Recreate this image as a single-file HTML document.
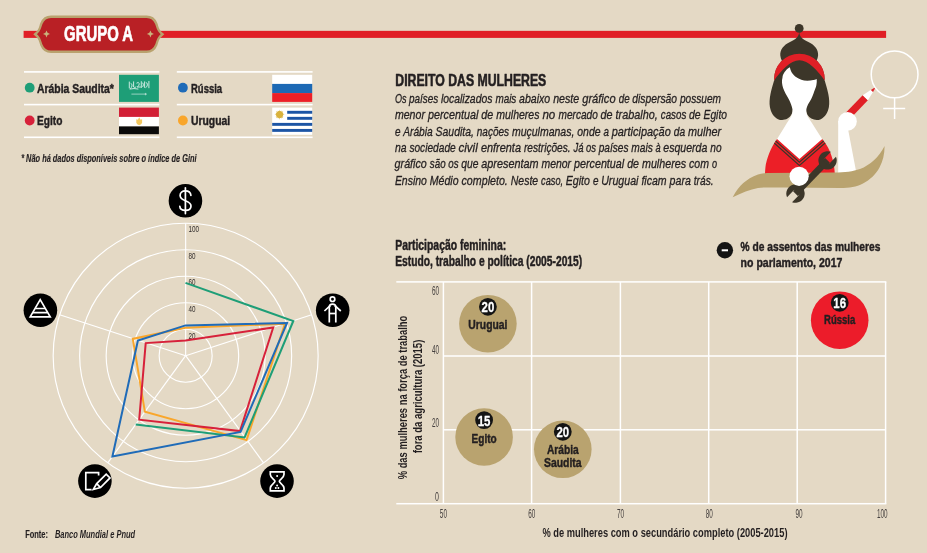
<!DOCTYPE html>
<html lang="pt-BR"><head><meta charset="utf-8"><title>Grupo A - Direito das mulheres</title>
<style>
html,body{margin:0;padding:0;background:#E4D9C5;}
body{width:927px;height:553px;overflow:hidden;}
svg{display:block;font-family:"Liberation Sans",sans-serif;fill:#231F20;}
.b{font-weight:bold}
.i{font-style:italic}
</style></head><body>
<svg width="927" height="553" viewBox="0 0 927 553">
<rect width="927" height="553" fill="#E4D9C5"/>

<rect x="23.6" y="30.85" width="862.5" height="7.05" fill="#E01F26"/>
<path d="M51,16.75 C46.5,16.75 43,19.5 41.4,23.5 C40.4,26 40.3,28.3 38.6,30.6 C37.6,32 36.4,33.2 35.1,34.25 C36.4,35.3 37.6,36.5 38.6,37.9 C40.3,40.2 40.4,42.5 41.4,45 C43,49 46.5,51.75 51,51.75 L146.6,51.75 C151.1,51.75 154.6,49 156.2,45 C157.2,42.5 157.3,40.2 159.0,37.9 C160.0,36.5 161.2,35.3 162.5,34.25 C161.2,33.2 160.0,32 159.0,30.6 C157.3,28.3 157.2,26 156.2,23.5 C154.6,19.5 151.1,16.75 146.6,16.75 Z" fill="#B92025" stroke="#B9A26E" stroke-width="2.3" stroke-linejoin="miter"/>
<path d="M46.5,30.4 L47.55,32.85 L50.0,33.9 L47.55,34.949999999999996 L46.5,37.4 L45.45,34.949999999999996 L43.0,33.9 L45.45,32.85 Z M150.4,30.4 L151.45000000000002,32.85 L153.9,33.9 L151.45000000000002,34.949999999999996 L150.4,37.4 L149.35,34.949999999999996 L146.9,33.9 L149.35,32.85 Z" fill="#C9B37C"/>
<text x="64.1" y="41.2" font-size="21.8" textLength="69" lengthAdjust="spacingAndGlyphs" class="b" fill="#FFFFFF" stroke="#FFFFFF" stroke-width="0.7" stroke-linejoin="round">GRUPO A</text>
<rect x="24" y="71.10000000000001" width="135.4" height="1.6" fill="#FFFFFF"/>
<rect x="24" y="103.8" width="135.4" height="1.6" fill="#FFFFFF"/>
<rect x="24" y="136.5" width="135.4" height="1.6" fill="#FFFFFF"/>
<rect x="176.8" y="71.10000000000001" width="135.8" height="1.6" fill="#FFFFFF"/>
<rect x="176.8" y="103.8" width="135.8" height="1.6" fill="#FFFFFF"/>
<rect x="176.8" y="136.5" width="135.8" height="1.6" fill="#FFFFFF"/>
<circle cx="29.7" cy="87.7" r="4.9" fill="#1E9E77"/>
<circle cx="29.7" cy="120.5" r="4.9" fill="#D7213A"/>
<circle cx="182.9" cy="87.7" r="4.9" fill="#1F6BB8"/>
<circle cx="182.9" cy="120.5" r="4.9" fill="#F9A62B"/>
<text x="37" y="92.5" font-size="13" textLength="76.9" lengthAdjust="spacingAndGlyphs" class="b" stroke="#231F20" stroke-width="0.45" stroke-linejoin="round">Arábia Saudita*</text>
<text x="37" y="125.2" font-size="13" textLength="25.4" lengthAdjust="spacingAndGlyphs" class="b" stroke="#231F20" stroke-width="0.45" stroke-linejoin="round">Egito</text>
<text x="191" y="92.5" font-size="13" textLength="31.1" lengthAdjust="spacingAndGlyphs" class="b" stroke="#231F20" stroke-width="0.45" stroke-linejoin="round">Rússia</text>
<text x="191" y="125.2" font-size="13" textLength="39.2" lengthAdjust="spacingAndGlyphs" class="b" stroke="#231F20" stroke-width="0.45" stroke-linejoin="round">Uruguai</text>
<rect x="119" y="74.8" width="39.9" height="27.1" fill="#1E9E77"/>
<g stroke="#FFFFFF" fill="none" stroke-linecap="round" opacity="0.85"><path stroke-width="0.9" d="M129.3,82 v6 M131,83.5 q1.6,0.5 1,2.5 t-1.5,2.5 M133.6,81.8 v5.2 q1.2,1.2 2.4,0 M136.8,83 q2,-1.6 2.4,0.6 t-2,3.4 h3.2 M141.3,81.6 v6 M142.9,83 q1.4,1.8 0,3.6 M144.6,81.8 v5.6 M146.2,82.6 q1.6,0.2 1.2,2.4 t-1.6,2.6 M148.9,81.4 v6.4 M130,89 q4,-1 8,0"/><path stroke-width="0.7" opacity="0.9" d="M131.8,94.1 h14.8 M145.4,93.3 v1.6"/></g>
<rect x="119" y="107.6" width="39.9" height="9.4" fill="#D21F36"/><rect x="119" y="116.9" width="39.9" height="9.6" fill="#FFFFFF"/><rect x="119" y="126.4" width="39.9" height="7.8" fill="#0A0A0A"/>
<path d="M136.3,119.2 l1.6,0.5 l1.3,-2.4 l1.3,2.4 l1.6,-0.5 v3.6 q-0.4,1.6 -2.9,2.4 q-2.5,-0.8 -2.9,-2.4 Z" fill="#F2C860"/>
<rect x="272.2" y="74.8" width="40" height="9.2" fill="#FFFFFF"/><rect x="272.2" y="83.9" width="40" height="9.3" fill="#1C69B5"/><rect x="272.2" y="93.1" width="40" height="8.8" fill="#EC1F27"/>
<rect x="272.2" y="107.6" width="40" height="27.2" fill="#FFFFFF"/>
<rect x="287.2" y="110.82" width="25" height="2.92" fill="#1C55A5"/>
<rect x="287.2" y="116.86" width="25" height="2.92" fill="#1C55A5"/>
<rect x="272.2" y="122.90" width="40" height="2.92" fill="#1C55A5"/>
<rect x="272.2" y="128.94" width="40" height="2.92" fill="#1C55A5"/>
<path d="M282.02,113.98 L284.70,114.60 L282.02,115.22 Z M282.07,114.96 L283.76,116.32 L281.60,116.10 Z M281.75,115.88 L283.21,118.21 L280.88,116.75 Z M281.10,116.60 L281.32,118.76 L279.96,117.07 Z M280.22,117.02 L279.60,119.70 L278.98,117.02 Z M279.24,117.07 L277.88,118.76 L278.10,116.60 Z M278.32,116.75 L275.99,118.21 L277.45,115.88 Z M277.60,116.10 L275.44,116.32 L277.13,114.96 Z M277.18,115.22 L274.50,114.60 L277.18,113.98 Z M277.13,114.24 L275.44,112.88 L277.60,113.10 Z M277.45,113.32 L275.99,110.99 L278.32,112.45 Z M278.10,112.60 L277.88,110.44 L279.24,112.13 Z M278.98,112.18 L279.60,109.50 L280.22,112.18 Z M279.96,112.13 L281.32,110.44 L281.10,112.60 Z M280.88,112.45 L283.21,110.99 L281.75,113.32 Z M281.60,113.10 L283.76,112.88 L282.07,114.24 Z" fill="#D9B23C"/><circle cx="279.6" cy="114.6" r="3.5" fill="#D9B23C"/>
<text x="21.2" y="161.6" font-size="10" textLength="175.4" lengthAdjust="spacingAndGlyphs" class="b i" stroke="#231F20" stroke-width="0.15" stroke-linejoin="round">* Não há dados disponíveis sobre o índice de Gini</text>
<text x="395.3" y="85.6" font-size="16.8" textLength="151.0" lengthAdjust="spacingAndGlyphs" class="b" stroke="#231F20" stroke-width="0.6" stroke-linejoin="round">DIREITO DAS MULHERES</text>
<text x="394.9" y="102.6" font-size="13.3" textLength="11.58" lengthAdjust="spacingAndGlyphs" class="i" stroke="#231F20" stroke-width="0.3" stroke-linejoin="round">Os</text>
<text x="409" y="102.6" font-size="13.3" textLength="29.15" lengthAdjust="spacingAndGlyphs" class="i" stroke="#231F20" stroke-width="0.3" stroke-linejoin="round">países</text>
<text x="440.9" y="102.6" font-size="13.3" textLength="51.6" lengthAdjust="spacingAndGlyphs" class="i" stroke="#231F20" stroke-width="0.3" stroke-linejoin="round">localizados</text>
<text x="495.4" y="102.6" font-size="13.3" textLength="20.94" lengthAdjust="spacingAndGlyphs" class="i" stroke="#231F20" stroke-width="0.3" stroke-linejoin="round">mais</text>
<text x="519.1" y="102.6" font-size="13.3" textLength="31.16" lengthAdjust="spacingAndGlyphs" class="i" stroke="#231F20" stroke-width="0.3" stroke-linejoin="round">abaixo</text>
<text x="553.2" y="102.6" font-size="13.3" textLength="26.04" lengthAdjust="spacingAndGlyphs" class="i" stroke="#231F20" stroke-width="0.3" stroke-linejoin="round">neste</text>
<text x="582.2" y="102.6" font-size="13.3" textLength="33.41" lengthAdjust="spacingAndGlyphs" class="i" stroke="#231F20" stroke-width="0.3" stroke-linejoin="round">gráfico</text>
<text x="618.7" y="102.6" font-size="13.3" textLength="10.88" lengthAdjust="spacingAndGlyphs" class="i" stroke="#231F20" stroke-width="0.3" stroke-linejoin="round">de</text>
<text x="632.3" y="102.6" font-size="13.3" textLength="44.73" lengthAdjust="spacingAndGlyphs" class="i" stroke="#231F20" stroke-width="0.3" stroke-linejoin="round">dispersão</text>
<text x="679.9" y="102.6" font-size="13.3" textLength="41.1" lengthAdjust="spacingAndGlyphs" class="i" stroke="#231F20" stroke-width="0.3" stroke-linejoin="round">possuem</text>
<text x="394.9" y="119.05" font-size="13.3" textLength="30.05" lengthAdjust="spacingAndGlyphs" class="i" stroke="#231F20" stroke-width="0.3" stroke-linejoin="round">menor</text>
<text x="427.9" y="119.05" font-size="13.3" textLength="50.4" lengthAdjust="spacingAndGlyphs" class="i" stroke="#231F20" stroke-width="0.3" stroke-linejoin="round">percentual</text>
<text x="481.3" y="119.05" font-size="13.3" textLength="11.92" lengthAdjust="spacingAndGlyphs" class="i" stroke="#231F20" stroke-width="0.3" stroke-linejoin="round">de</text>
<text x="496.2" y="119.05" font-size="13.3" textLength="43.28" lengthAdjust="spacingAndGlyphs" class="i" stroke="#231F20" stroke-width="0.3" stroke-linejoin="round">mulheres</text>
<text x="542.4" y="119.05" font-size="13.3" textLength="12.88" lengthAdjust="spacingAndGlyphs" class="i" stroke="#231F20" stroke-width="0.3" stroke-linejoin="round">no</text>
<text x="558.5" y="119.05" font-size="13.3" textLength="39.29" lengthAdjust="spacingAndGlyphs" class="i" stroke="#231F20" stroke-width="0.3" stroke-linejoin="round">mercado</text>
<text x="600.6" y="119.05" font-size="13.3" textLength="12.0" lengthAdjust="spacingAndGlyphs" class="i" stroke="#231F20" stroke-width="0.3" stroke-linejoin="round">de</text>
<text x="615.6" y="119.05" font-size="13.3" textLength="42.19" lengthAdjust="spacingAndGlyphs" class="i" stroke="#231F20" stroke-width="0.3" stroke-linejoin="round">trabalho,</text>
<text x="660.8" y="119.05" font-size="13.3" textLength="25.49" lengthAdjust="spacingAndGlyphs" class="i" stroke="#231F20" stroke-width="0.3" stroke-linejoin="round">casos</text>
<text x="689" y="119.05" font-size="13.3" textLength="11.6" lengthAdjust="spacingAndGlyphs" class="i" stroke="#231F20" stroke-width="0.3" stroke-linejoin="round">de</text>
<text x="703.5" y="119.05" font-size="13.3" textLength="23.5" lengthAdjust="spacingAndGlyphs" class="i" stroke="#231F20" stroke-width="0.3" stroke-linejoin="round">Egito</text>
<text x="394.9" y="135.5" font-size="13.3" textLength="5.53" lengthAdjust="spacingAndGlyphs" class="i" stroke="#231F20" stroke-width="0.3" stroke-linejoin="round">e</text>
<text x="403.2" y="135.5" font-size="13.3" textLength="29.56" lengthAdjust="spacingAndGlyphs" class="i" stroke="#231F20" stroke-width="0.3" stroke-linejoin="round">Arábia</text>
<text x="435.6" y="135.5" font-size="13.3" textLength="38.3" lengthAdjust="spacingAndGlyphs" class="i" stroke="#231F20" stroke-width="0.3" stroke-linejoin="round">Saudita,</text>
<text x="476.8" y="135.5" font-size="13.3" textLength="32.32" lengthAdjust="spacingAndGlyphs" class="i" stroke="#231F20" stroke-width="0.3" stroke-linejoin="round">nações</text>
<text x="511.9" y="135.5" font-size="13.3" textLength="62.48" lengthAdjust="spacingAndGlyphs" class="i" stroke="#231F20" stroke-width="0.3" stroke-linejoin="round">muçulmanas,</text>
<text x="577.3" y="135.5" font-size="13.3" textLength="23.29" lengthAdjust="spacingAndGlyphs" class="i" stroke="#231F20" stroke-width="0.3" stroke-linejoin="round">onde</text>
<text x="603.5" y="135.5" font-size="13.3" textLength="5.47" lengthAdjust="spacingAndGlyphs" class="i" stroke="#231F20" stroke-width="0.3" stroke-linejoin="round">a</text>
<text x="611.7" y="135.5" font-size="13.3" textLength="59.06" lengthAdjust="spacingAndGlyphs" class="i" stroke="#231F20" stroke-width="0.3" stroke-linejoin="round">participação</text>
<text x="673.8" y="135.5" font-size="13.3" textLength="11.36" lengthAdjust="spacingAndGlyphs" class="i" stroke="#231F20" stroke-width="0.3" stroke-linejoin="round">da</text>
<text x="688" y="135.5" font-size="13.3" textLength="33.2" lengthAdjust="spacingAndGlyphs" class="i" stroke="#231F20" stroke-width="0.3" stroke-linejoin="round">mulher</text>
<text x="394.9" y="151.95" font-size="13.3" textLength="11.6" lengthAdjust="spacingAndGlyphs" class="i" stroke="#231F20" stroke-width="0.3" stroke-linejoin="round">na</text>
<text x="409.4" y="151.95" font-size="13.3" textLength="46.28" lengthAdjust="spacingAndGlyphs" class="i" stroke="#231F20" stroke-width="0.3" stroke-linejoin="round">sociedade</text>
<text x="458.5" y="151.95" font-size="13.3" textLength="19.2" lengthAdjust="spacingAndGlyphs" class="i" stroke="#231F20" stroke-width="0.3" stroke-linejoin="round">civil</text>
<text x="480.9" y="151.95" font-size="13.3" textLength="40.07" lengthAdjust="spacingAndGlyphs" class="i" stroke="#231F20" stroke-width="0.3" stroke-linejoin="round">enfrenta</text>
<text x="524" y="151.95" font-size="13.3" textLength="46.59" lengthAdjust="spacingAndGlyphs" class="i" stroke="#231F20" stroke-width="0.3" stroke-linejoin="round">restrições.</text>
<text x="573.4" y="151.95" font-size="13.3" textLength="10.05" lengthAdjust="spacingAndGlyphs" class="i" stroke="#231F20" stroke-width="0.3" stroke-linejoin="round">Já</text>
<text x="586.1" y="151.95" font-size="13.3" textLength="9.98" lengthAdjust="spacingAndGlyphs" class="i" stroke="#231F20" stroke-width="0.3" stroke-linejoin="round">os</text>
<text x="598.7" y="151.95" font-size="13.3" textLength="29.79" lengthAdjust="spacingAndGlyphs" class="i" stroke="#231F20" stroke-width="0.3" stroke-linejoin="round">países</text>
<text x="631.3" y="151.95" font-size="13.3" textLength="21.47" lengthAdjust="spacingAndGlyphs" class="i" stroke="#231F20" stroke-width="0.3" stroke-linejoin="round">mais</text>
<text x="655.6" y="151.95" font-size="13.3" textLength="5.13" lengthAdjust="spacingAndGlyphs" class="i" stroke="#231F20" stroke-width="0.3" stroke-linejoin="round">à</text>
<text x="663.3" y="151.95" font-size="13.3" textLength="44.06" lengthAdjust="spacingAndGlyphs" class="i" stroke="#231F20" stroke-width="0.3" stroke-linejoin="round">esquerda</text>
<text x="710.3" y="151.95" font-size="13.3" textLength="11.3" lengthAdjust="spacingAndGlyphs" class="i" stroke="#231F20" stroke-width="0.3" stroke-linejoin="round">no</text>
<text x="394.6" y="168.4" font-size="13.3" textLength="32.22" lengthAdjust="spacingAndGlyphs" class="i" stroke="#231F20" stroke-width="0.3" stroke-linejoin="round">gráfico</text>
<text x="429.8" y="168.4" font-size="13.3" textLength="15.78" lengthAdjust="spacingAndGlyphs" class="i" stroke="#231F20" stroke-width="0.3" stroke-linejoin="round">são</text>
<text x="448.3" y="168.4" font-size="13.3" textLength="10.29" lengthAdjust="spacingAndGlyphs" class="i" stroke="#231F20" stroke-width="0.3" stroke-linejoin="round">os</text>
<text x="461.3" y="168.4" font-size="13.3" textLength="17.15" lengthAdjust="spacingAndGlyphs" class="i" stroke="#231F20" stroke-width="0.3" stroke-linejoin="round">que</text>
<text x="481.3" y="168.4" font-size="13.3" textLength="57.19" lengthAdjust="spacingAndGlyphs" class="i" stroke="#231F20" stroke-width="0.3" stroke-linejoin="round">apresentam</text>
<text x="541.5" y="168.4" font-size="13.3" textLength="29.6" lengthAdjust="spacingAndGlyphs" class="i" stroke="#231F20" stroke-width="0.3" stroke-linejoin="round">menor</text>
<text x="574" y="168.4" font-size="13.3" textLength="50.21" lengthAdjust="spacingAndGlyphs" class="i" stroke="#231F20" stroke-width="0.3" stroke-linejoin="round">percentual</text>
<text x="627.2" y="168.4" font-size="13.3" textLength="11.84" lengthAdjust="spacingAndGlyphs" class="i" stroke="#231F20" stroke-width="0.3" stroke-linejoin="round">de</text>
<text x="642" y="168.4" font-size="13.3" textLength="44.03" lengthAdjust="spacingAndGlyphs" class="i" stroke="#231F20" stroke-width="0.3" stroke-linejoin="round">mulheres</text>
<text x="689" y="168.4" font-size="13.3" textLength="19.96" lengthAdjust="spacingAndGlyphs" class="i" stroke="#231F20" stroke-width="0.3" stroke-linejoin="round">com</text>
<text x="711.9" y="168.4" font-size="13.3" textLength="5.1" lengthAdjust="spacingAndGlyphs" class="i" stroke="#231F20" stroke-width="0.3" stroke-linejoin="round">o</text>
<text x="394.9" y="184.85" font-size="13.3" textLength="31.99" lengthAdjust="spacingAndGlyphs" class="i" stroke="#231F20" stroke-width="0.3" stroke-linejoin="round">Ensino</text>
<text x="429.8" y="184.85" font-size="13.3" textLength="28.77" lengthAdjust="spacingAndGlyphs" class="i" stroke="#231F20" stroke-width="0.3" stroke-linejoin="round">Médio</text>
<text x="461.5" y="184.85" font-size="13.3" textLength="46.33" lengthAdjust="spacingAndGlyphs" class="i" stroke="#231F20" stroke-width="0.3" stroke-linejoin="round">completo.</text>
<text x="510.8" y="184.85" font-size="13.3" textLength="27.39" lengthAdjust="spacingAndGlyphs" class="i" stroke="#231F20" stroke-width="0.3" stroke-linejoin="round">Neste</text>
<text x="541.1" y="184.85" font-size="13.3" textLength="22.04" lengthAdjust="spacingAndGlyphs" class="i" stroke="#231F20" stroke-width="0.3" stroke-linejoin="round">caso,</text>
<text x="565.7" y="184.85" font-size="13.3" textLength="24.24" lengthAdjust="spacingAndGlyphs" class="i" stroke="#231F20" stroke-width="0.3" stroke-linejoin="round">Egito</text>
<text x="592.9" y="184.85" font-size="13.3" textLength="5.53" lengthAdjust="spacingAndGlyphs" class="i" stroke="#231F20" stroke-width="0.3" stroke-linejoin="round">e</text>
<text x="601.2" y="184.85" font-size="13.3" textLength="37.25" lengthAdjust="spacingAndGlyphs" class="i" stroke="#231F20" stroke-width="0.3" stroke-linejoin="round">Uruguai</text>
<text x="641.4" y="184.85" font-size="13.3" textLength="25.26" lengthAdjust="spacingAndGlyphs" class="i" stroke="#231F20" stroke-width="0.3" stroke-linejoin="round">ficam</text>
<text x="669.6" y="184.85" font-size="13.3" textLength="21.25" lengthAdjust="spacingAndGlyphs" class="i" stroke="#231F20" stroke-width="0.3" stroke-linejoin="round">para</text>
<text x="693.8" y="184.85" font-size="13.3" textLength="19.8" lengthAdjust="spacingAndGlyphs" class="i" stroke="#231F20" stroke-width="0.3" stroke-linejoin="round">trás.</text>
<g fill="none" stroke="#FFFFFF" stroke-width="1.15">
<circle cx="185.65" cy="355.7" r="26.50"/>
<circle cx="185.65" cy="355.7" r="53.00"/>
<circle cx="185.65" cy="355.7" r="79.50"/>
<circle cx="185.65" cy="355.7" r="106.00"/>
<circle cx="185.65" cy="355.7" r="132.50"/>
<line x1="185.65" y1="355.7" x2="185.65" y2="223.20"/>
<line x1="185.65" y1="355.7" x2="311.66" y2="314.76"/>
<line x1="185.65" y1="355.7" x2="263.53" y2="462.89"/>
<line x1="185.65" y1="355.7" x2="107.77" y2="462.89"/>
<line x1="185.65" y1="355.7" x2="59.64" y2="314.76"/>
</g>
<text x="188.4" y="338.5" font-size="9.6" textLength="7.0" lengthAdjust="spacingAndGlyphs" fill="#332E2D">20</text>
<text x="188.4" y="311.9" font-size="9.6" textLength="7.0" lengthAdjust="spacingAndGlyphs" fill="#332E2D">40</text>
<text x="188.4" y="285.2" font-size="9.6" textLength="7.0" lengthAdjust="spacingAndGlyphs" fill="#332E2D">60</text>
<text x="188.4" y="258.6" font-size="9.6" textLength="7.0" lengthAdjust="spacingAndGlyphs" fill="#332E2D">80</text>
<text x="188.4" y="231.9" font-size="9.6" textLength="10.6" lengthAdjust="spacingAndGlyphs" fill="#332E2D">100</text>
<polygon points="185.5,327.7 284.9,323.7 246.6,440.1 144.9,411.8 132.8,338.9" fill="none" stroke="#F9A62B" stroke-width="2" stroke-linejoin="miter"/>
<polyline points="185.5,282.9 293.3,321.0 244.6,437.4 135.7,424.6" fill="none" stroke="#1E9E77" stroke-width="2" stroke-linejoin="miter"/>
<polygon points="185.5,340.6 273.2,327.5 240.0,431.1 139.2,419.7 145.7,343.1" fill="none" stroke="#D7213A" stroke-width="2" stroke-linejoin="miter"/>
<polygon points="185.5,325.4 287.0,323.0 240.6,431.9 112.4,456.6 137.9,340.5" fill="none" stroke="#1F6BB8" stroke-width="2" stroke-linejoin="miter"/>
<circle cx="185.45" cy="200.8" r="16.8" fill="#000000"/>
<g fill="none" stroke="#FFFFFF" stroke-width="1.7" stroke-linecap="round"><path d="M190.9,195.4 C190.6,192.6 188.3,190.9 185.4,190.9 C182.3,190.9 180.1,192.8 180.1,195.5 C180.1,198.6 182.8,199.8 185.4,200.7 C188.2,201.7 191,203 191,206 C191,208.8 188.6,210.4 185.4,210.4 C182.4,210.4 180,208.9 179.8,206.4"/><line x1="185.4" y1="187.8" x2="185.4" y2="213.6"/></g>
<circle cx="332.7" cy="310.2" r="16.8" fill="#000000"/>
<g fill="none" stroke="#FFFFFF" stroke-width="1.7"><circle cx="332.5" cy="299.2" r="2.3"/><path d="M329.3,322.6 V307.5 C329.3,305.3 330.6,304.2 332.5,304.2 C334.4,304.2 335.8,305.3 335.8,307.5 V322.6"/><path d="M329.3,313.5 H335.8"/><path d="M324.4,311 L330.2,305.6 M340.8,311 L334.9,305.6"/></g>
<circle cx="40.4" cy="310.3" r="16.8" fill="#000000"/>
<g fill="none" stroke="#FFFFFF" stroke-width="1.7" stroke-linejoin="miter"><path d="M40.2,299.6 L50.2,316.8 H30.2 Z"/><path d="M35.4,308.5 H45.0 M33.0,312.6 H47.4"/></g>
<circle cx="94.9" cy="481.1" r="16.8" fill="#000000"/>
<g fill="none" stroke="#FFFFFF" stroke-width="1.7" stroke-linejoin="miter"><path d="M91.6,489.6 H85.8 V472.7 H98.6 V475.5"/><path d="M93.3,489.5 L96.7,483.6 L106.2,474.1 L110.0,477.9 L100.5,487.6 Z M96.7,483.6 L100.5,487.6"/></g>
<circle cx="277" cy="481.1" r="16.8" fill="#000000"/>
<g fill="none" stroke="#FFFFFF" stroke-width="1.7" stroke-linejoin="miter"><path d="M270.3,471.9 H284 V474.5 C284,478 279.3,479.5 279.3,481.3 C279.3,483.1 284,484.6 284,488.1 V490.8 H270.3 V488.1 C270.3,484.6 275,483.1 275,481.3 C275,479.5 270.3,478 270.3,474.5 Z"/></g><g fill="#FFFFFF"><circle cx="277.1" cy="476" r="1.0"/><circle cx="277.1" cy="485.5" r="1.0"/><circle cx="275.8" cy="488" r="1.0"/><circle cx="278.4" cy="488" r="1.0"/></g>
<text x="25.2" y="538.0" font-size="10.2" textLength="22.8" lengthAdjust="spacingAndGlyphs" class="b" stroke="#231F20" stroke-width="0.15" stroke-linejoin="round">Fonte:</text>
<text x="54.9" y="538.0" font-size="10.2" textLength="80.2" lengthAdjust="spacingAndGlyphs" class="b i">Banco Mundial e Pnud</text>
<text x="395.2" y="250.2" font-size="13.8" textLength="111.0" lengthAdjust="spacingAndGlyphs" class="b" stroke="#231F20" stroke-width="0.45" stroke-linejoin="round">Participação feminina:</text>
<text x="395.2" y="265.7" font-size="13.8" textLength="187.0" lengthAdjust="spacingAndGlyphs" class="b" stroke="#231F20" stroke-width="0.45" stroke-linejoin="round">Estudo, trabalho e política (2005-2015)</text>
<circle cx="724.9" cy="250.3" r="8.2" fill="#141414"/><rect x="721.7" y="249.3" width="6.3" height="2" fill="#FFFFFF"/>
<text x="740.6" y="251.4" font-size="13.5" textLength="139.8" lengthAdjust="spacingAndGlyphs" class="b" stroke="#231F20" stroke-width="0.45" stroke-linejoin="round">% de assentos das mulheres</text>
<text x="740.6" y="267.4" font-size="13.5" textLength="101.8" lengthAdjust="spacingAndGlyphs" class="b" stroke="#231F20" stroke-width="0.45" stroke-linejoin="round">no parlamento, 2017</text>
<g fill="#FFFFFF">
<rect x="396.3" y="281.15" width="490.05" height="1.5"/>
<rect x="396.3" y="502.95" width="490.05" height="1.5"/>
<rect x="443.3" y="355.25" width="442.3" height="1.5"/>
<rect x="443.3" y="429.05" width="442.3" height="1.5"/>
<rect x="442.65" y="281.9" width="1.5" height="221.8"/>
<rect x="530.85" y="281.9" width="1.5" height="221.8"/>
<rect x="619.65" y="281.9" width="1.5" height="221.8"/>
<rect x="707.95" y="281.9" width="1.5" height="221.8"/>
<rect x="796.45" y="281.9" width="1.5" height="221.8"/>
<rect x="884.85" y="281.9" width="1.5" height="221.8"/>
</g>
<text x="431.9" y="294.9" font-size="13" textLength="7.1" lengthAdjust="spacingAndGlyphs" fill="#45403F">60</text>
<text x="431.9" y="354.2" font-size="13" textLength="7.1" lengthAdjust="spacingAndGlyphs" fill="#45403F">40</text>
<text x="431.9" y="426.8" font-size="13" textLength="7.1" lengthAdjust="spacingAndGlyphs" fill="#45403F">20</text>
<text x="435.1" y="500.8" font-size="13" textLength="3.9" lengthAdjust="spacingAndGlyphs" fill="#45403F">0</text>
<text x="439.85" y="518.3" font-size="13" textLength="7.1" lengthAdjust="spacingAndGlyphs" fill="#45403F">50</text>
<text x="528.15" y="518.3" font-size="13" textLength="7.1" lengthAdjust="spacingAndGlyphs" fill="#45403F">60</text>
<text x="616.95" y="518.3" font-size="13" textLength="7.1" lengthAdjust="spacingAndGlyphs" fill="#45403F">70</text>
<text x="705.65" y="518.3" font-size="13" textLength="7.1" lengthAdjust="spacingAndGlyphs" fill="#45403F">80</text>
<text x="795.45" y="518.3" font-size="13" textLength="7.1" lengthAdjust="spacingAndGlyphs" fill="#45403F">90</text>
<text x="877" y="518.3" font-size="13" textLength="10.6" lengthAdjust="spacingAndGlyphs" fill="#45403F">100</text>
<text x="542.4" y="537.2" font-size="13" textLength="245.1" lengthAdjust="spacingAndGlyphs" class="b">% de mulheres com o secundário completo (2005-2015)</text>
<text transform="translate(406.8,479.3) rotate(-90)" font-size="13" class="b" textLength="163.6" lengthAdjust="spacingAndGlyphs">% das mulheres na força de trabalho</text>
<text transform="translate(421.8,453.3) rotate(-90)" font-size="13" class="b" textLength="113.6" lengthAdjust="spacingAndGlyphs">fora da agricultura (2015)</text>
<circle cx="487.9" cy="323.7" r="28.8" fill="#B9A36F"/>
<circle cx="487.9" cy="306.8" r="8.9" fill="#141414"/>
<text x="487.9" y="312.2" font-size="15.2" textLength="12.7" lengthAdjust="spacingAndGlyphs" class="b" fill="#FFFFFF" text-anchor="middle" stroke="#FFFFFF" stroke-width="0.3" stroke-linejoin="round">20</text>
<text x="487.9" y="328.7" font-size="13.1" textLength="39.1" lengthAdjust="spacingAndGlyphs" class="b" text-anchor="middle" stroke="#231F20" stroke-width="0.45" stroke-linejoin="round">Uruguai</text>
<circle cx="484.1" cy="437.0" r="28.8" fill="#B9A36F"/>
<circle cx="484.1" cy="420.1" r="8.9" fill="#141414"/>
<text x="484.1" y="425.5" font-size="15.2" textLength="12.7" lengthAdjust="spacingAndGlyphs" class="b" fill="#FFFFFF" text-anchor="middle" stroke="#FFFFFF" stroke-width="0.3" stroke-linejoin="round">15</text>
<text x="484.1" y="442.9" font-size="13.1" textLength="25.1" lengthAdjust="spacingAndGlyphs" class="b" text-anchor="middle" stroke="#231F20" stroke-width="0.45" stroke-linejoin="round">Egito</text>
<circle cx="562.8" cy="449.3" r="28.8" fill="#B9A36F"/>
<circle cx="562.8" cy="431.8" r="8.9" fill="#141414"/>
<text x="562.8" y="437.2" font-size="15.2" textLength="12.7" lengthAdjust="spacingAndGlyphs" class="b" fill="#FFFFFF" text-anchor="middle" stroke="#FFFFFF" stroke-width="0.3" stroke-linejoin="round">20</text>
<text x="562.8" y="453.5" font-size="13.1" textLength="31.8" lengthAdjust="spacingAndGlyphs" class="b" text-anchor="middle" stroke="#231F20" stroke-width="0.45" stroke-linejoin="round">Arábia</text>
<text x="562.8" y="467.1" font-size="13.1" textLength="37.6" lengthAdjust="spacingAndGlyphs" class="b" text-anchor="middle" stroke="#231F20" stroke-width="0.45" stroke-linejoin="round">Saudita</text>
<circle cx="839.7" cy="320.2" r="28.8" fill="#EC1C2A"/>
<circle cx="839.7" cy="302.8" r="8.9" fill="#141414"/>
<text x="839.7" y="308.2" font-size="15.2" textLength="12.7" lengthAdjust="spacingAndGlyphs" class="b" fill="#FFFFFF" text-anchor="middle" stroke="#FFFFFF" stroke-width="0.3" stroke-linejoin="round">16</text>
<text x="839.7" y="324.0" font-size="13.1" textLength="31.2" lengthAdjust="spacingAndGlyphs" class="b" text-anchor="middle" stroke="#231F20" stroke-width="0.45" stroke-linejoin="round">Rússia</text>
<g>
<circle cx="799.2" cy="28.4" r="4.4" fill="#3C3629"/>
<path d="M799.2,31 C799.2,37 795.5,39.5 790,42 C783.5,45 779.8,50 780.3,55.5 C781,63 788,70 799.2,70 C810.4,70 817.4,63 818.1,55.5 C818.6,50 814.9,45 808.4,42 C802.9,39.5 799.2,37 799.2,31 Z" fill="#3C3629"/>
<circle cx="799.4" cy="79.0" r="25.2" fill="#3C3629"/>
<path d="M774.1,80.4 C773,84 771.5,89 770.5,94 C769.5,99 769.3,103 769.9,107 C770.8,112 773.5,117 778,119.2 C781,120.5 784.5,120.3 787.5,118.6 C790.5,116.8 792.6,113.5 792.8,110 L799.4,100 L799.4,80 Z" fill="#3C3629"/>
<path d="M774.1,80.4 C773,84 771.5,89 770.5,94 C769.5,99 769.3,103 769.9,107 C770.8,112 773.5,117 778,119.2 C781,120.5 784.5,120.3 787.5,118.6 C790.5,116.8 792.6,113.5 792.8,110 L799.4,100 L799.4,80 Z" fill="#3C3629" transform="translate(1598.8,0) scale(-1,1)"/>
<clipPath id="dc"><path d="M777.1,139 C772.5,145 768.5,153 765.8,164.5 C765.3,168 765.1,171 765,174 H834.8 C834.6,168 833.6,163 832.5,159 C830,150 826.5,144 822.2,139 L799.4,150 Z"/></clipPath>
<path d="M777.1,139 C772.5,145 768.5,153 765.8,164.5 C765.3,168 765.1,171 765,174 H834.8 C834.6,168 833.6,163 832.5,159 C830,150 826.5,144 822.2,139 L799.4,150 Z" fill="#EC1F27"/>
<path d="M789.9,67.2 C787.5,68.5 785.5,70.5 784.6,72.1 C783.3,74 782.6,75.8 782.5,77.4 C782,79 781.9,81 782,82.7 C782.2,84.5 782.6,86.3 783.1,87.9 C783.8,90 784.8,92 785.8,94 C787,96 788.2,98 789.2,100 C790.6,103 791.8,106 792.4,109 C793,112 792,115.5 789.5,119 C786,124.5 781,132.5 777.1,139 L799.4,158.9 L822.2,139 C818,132.5 813,124.5 809.3,119 C806.8,115.5 805.8,112 806.4,109 C807,106 808.8,103 811.1,99.3 C812.5,96.5 813.4,94 814.1,91.7 C815,89.5 816,87 816.4,84.9 C816.8,83 816.9,81 816.7,78.9 C815.5,79.5 814.5,79.8 813.3,80 C811.5,80.5 809.5,80.8 807.3,80.8 C805,80.8 803,80.5 801.3,79.8 C799,78.8 797,77.8 795.2,76.6 C793.5,75 792,73.3 791.1,71.3 C790.5,70 790.1,68.6 789.9,67.2 Z" fill="#FFFFFF"/>
<g fill="none" stroke="#3C3629" stroke-width="1.25" clip-path="url(#dc)"><path d="M770,135.95 L799.4,162.2 L830,135.45"/><path d="M768,137.5 L799.4,165.5 L832,137.0"/></g>
<path d="M774.1,80.4 A25.34,25.34 0 1 1 824.7,80.4 C817.7,70.7 808.4,60.2 799.4,60.2 C790.4,60.2 781.1,70.7 774.1,80.4 Z" fill="#E01F26"/>
<path d="M838.2,173 V121 H847 L848.3,130.4 L856.4,173 Z" fill="#FFFFFF"/>
<g transform="translate(850.6,113) rotate(-45.9)"><rect x="-4" y="-3.6" width="25.1" height="7.2" fill="#E01F26"/><path d="M21.1,-3.6 L30.9,-1.5 V1.5 L21.1,3.6 Z" fill="#FFFFFF"/><path d="M30.7,-1.5 L36.4,0 L30.7,1.5 Z" fill="#E01F26"/></g>
<circle cx="847.5" cy="121.4" r="9.3" fill="#FFFFFF"/>
<g fill="none" stroke="#FFFFFF" stroke-width="1.5"><circle cx="894.6" cy="74.4" r="23.4"/><path d="M894.6,97.8 V119 M883.2,108.4 H905.2"/></g>
<path d="M732.7,197.2 C736,191 739.5,186.5 743.3,183.1 C747,179.8 752,176.5 758,174.5 C761,173.5 764,173 767,172.9 L834,172.5 C845,172.4 853,171.5 860,169 C870,165 879,157 884.6,145.9 C884.5,154 883,161 879.5,167.5 C876,174 870,180 863,183.5 C856,187 850,188 840,188.1 L783,187.6 C772,187.5 764,187 758,188 C750,189.5 741.5,193 732.7,197.2 Z" fill="#B9A36F"/>
<g transform="translate(811.5,177) rotate(-46)" fill="#3C3629">
<rect x="-23.1" y="-3.3" width="46.2" height="6.6"/>
<path d="M-31.61,-3.50 L-22.90,-3.50 A3.5,3.5 0 0 1 -22.90,3.50 L-31.61,3.50 A9.2,9.2 0 1 0 -31.61,-3.50 Z"/>
<path d="M31.61,-3.50 L22.90,-3.50 A3.5,3.5 0 0 0 22.90,3.50 L31.61,3.50 A9.2,9.2 0 1 1 31.61,-3.50 Z"/>
</g>
<circle cx="799.1" cy="176.3" r="9.6" fill="#FFFFFF"/>
</g>
</svg></body></html>
